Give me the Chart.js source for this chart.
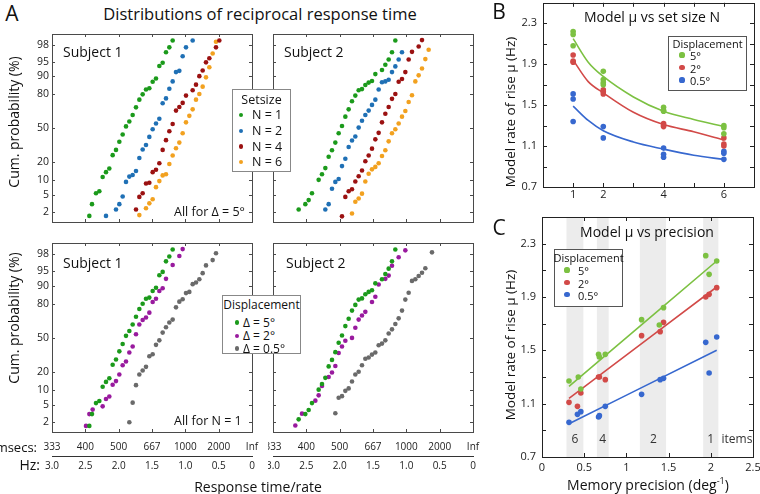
<!DOCTYPE html>
<html>
<head>
<meta charset="utf-8">
<script src="https://cdn.jsdelivr.net/npm/chart.js@4"></script>
<style>
  body { margin: 0; background: #fff; }
  #fig { position: relative; width: 760px; height: 494px; overflow: hidden; font-family: 'Open Sans', sans-serif; color: #111; }
  canvas { position: absolute; }
  .t { position: absolute; white-space: nowrap; line-height: 1; }
  .box { position: absolute; background: #fff; }
  .dot { position: absolute; border-radius: 50%; }
</style>
</head>
<body>
<div id="fig"></div>
<script>
// ---------- panel A: reciprocal RT (Hz) and cumulative probability (probit z) ----------
// subject 1, N = 1 (same data as delta = 5 deg)
var s1n1Hz = [2.44,2.40,2.34,2.29,2.24,2.19,2.14,2.09,2.04,1.99,1.94,1.89,1.84,1.79,1.74,1.69,1.64,1.59,1.54,1.49,1.44,1.39,1.34,1.29,1.24,1.19];
var s1n1Z  = [-2.16,-1.87,-1.60,-1.55,-1.20,-1.08,-0.99,-0.66,-0.53,-0.33,-0.15,0.05,0.17,0.33,0.52,0.71,0.84,0.96,0.99,1.15,1.23,1.54,1.62,1.88,2.00,2.17];
var s1n2Hz = [2.19,2.04,1.99,1.94,1.89,1.84,1.79,1.74,1.69,1.64,1.59,1.54,1.49,1.44,1.39,1.34,1.29,1.24,1.19,1.14,1.09,1.04,0.99,0.89];
var s1n2Z  = [-2.16,-2.00,-1.87,-1.68,-1.32,-1.19,-1.15,-1.05,-0.73,-0.52,-0.41,-0.21,-0.02,0.12,0.24,0.62,0.74,0.98,1.16,1.39,1.42,1.78,2.00,2.17];
var s1n4Hz = [1.74,1.69,1.64,1.59,1.54,1.49,1.44,1.39,1.34,1.29,1.24,1.19,1.14,1.09,1.04,0.99,0.89,0.84,0.79,0.74,0.69,0.64,0.54,0.49];
var s1n4Z  = [-2.00,-1.69,-1.60,-1.36,-1.34,-1.08,-1.02,-0.86,-0.53,-0.29,-0.07,0.11,0.44,0.53,0.63,0.81,0.94,1.08,1.29,1.43,1.63,1.73,2.00,2.17];
var s1n6Hz = [1.69,1.59,1.54,1.49,1.44,1.39,1.34,1.29,1.24,1.19,1.14,1.09,1.04,0.99,0.94,0.89,0.84,0.79,0.74,0.69,0.64,0.59,0.54];
var s1n6Z  = [-2.14,-1.97,-1.85,-1.75,-1.45,-1.30,-1.16,-1.13,-0.88,-0.67,-0.49,-0.35,-0.12,0.15,0.31,0.47,0.71,0.85,1.03,1.26,1.51,1.85,2.14];
// subject 2
var s2n1Hz = [2.615,2.515,2.465,2.415,2.315,2.265,2.215,2.165,2.115,2.065,2.015,1.965,1.915,1.865,1.815,1.765,1.715,1.665,1.615,1.565,1.515,1.465,1.365,1.315,1.265,1.215,1.165];
var s2n1Z  = [-2.00,-1.87,-1.77,-1.60,-1.27,-1.13,-0.98,-0.70,-0.54,-0.35,-0.12,0.06,0.29,0.47,0.67,0.81,0.94,0.97,1.07,1.13,1.17,1.34,1.44,1.57,1.70,1.88,2.17];
var s2n2Hz = [2.215,2.165,2.115,2.065,2.015,1.965,1.915,1.865,1.815,1.765,1.715,1.665,1.615,1.565,1.515,1.465,1.415,1.365,1.315,1.265,1.215,1.165,1.115,1.065];
var s2n2Z  = [-2.00,-1.87,-1.49,-1.32,-1.25,-0.93,-0.75,-0.46,-0.30,-0.20,0.02,0.19,0.33,0.44,0.58,0.71,0.96,1.14,1.16,1.20,1.39,1.53,1.70,1.88];
var s2n4Hz = [1.965,1.915,1.865,1.815,1.765,1.715,1.665,1.615,1.565,1.515,1.465,1.415,1.365,1.315,1.265,1.215,1.165,1.115,1.065,1.015,0.965,0.915,0.815,0.765];
var s2n4Z  = [-2.17,-1.69,-1.55,-1.50,-1.31,-1.18,-1.04,-0.81,-0.67,-0.50,-0.27,-0.11,0.15,0.36,0.53,0.73,0.85,1.15,1.22,1.39,1.70,1.89,2.02,2.18];
var s2n6Hz = [1.815,1.765,1.715,1.665,1.615,1.565,1.515,1.465,1.415,1.365,1.315,1.265,1.215,1.165,1.115,1.065,1.015,0.965,0.915,0.865,0.815,0.765,0.715,0.665];
var s2n6Z  = [-2.10,-1.81,-1.73,-1.61,-1.31,-1.12,-1.01,-0.95,-0.86,-0.68,-0.54,-0.32,-0.12,-0.02,0.12,0.29,0.43,0.65,0.82,1.16,1.31,1.48,1.71,1.94];
// displacement 2 deg and 0.5 deg (N = 1)
var s1d2Hz  = [2.49,2.44,2.39,2.24,2.19,2.14,2.09,2.04,1.99,1.94,1.89,1.84,1.79,1.74,1.69,1.64,1.59,1.54,1.49,1.44,1.39,1.34,1.29,1.19,1.09,1.04];
var s1d2Z   = [-2.16,-1.87,-1.76,-1.68,-1.50,-1.44,-1.15,-1.06,-0.90,-0.67,-0.58,-0.36,-0.21,0.09,0.33,0.44,0.50,0.62,0.88,0.96,1.15,1.22,1.45,1.79,2.01,2.18];
var s1d05Hz = [1.84,1.79,1.74,1.69,1.64,1.59,1.54,1.49,1.44,1.39,1.34,1.29,1.24,1.19,1.14,1.09,1.04,0.99,0.94,0.89,0.84,0.79,0.74,0.69,0.59,0.54];
var s1d05Z  = [-2.07,-1.59,-1.16,-0.90,-0.80,-0.71,-0.45,-0.40,-0.17,-0.06,0.13,0.26,0.38,0.45,0.75,0.89,0.95,1.10,1.13,1.32,1.36,1.44,1.59,1.78,1.91,2.08];
var s2d2Hz  = [2.665,2.565,2.365,2.315,2.265,2.165,2.115,2.065,2.015,1.965,1.915,1.815,1.765,1.715,1.665,1.615,1.515,1.465,1.415,1.315,1.265,1.215,1.115,1.015];
var s2d2Z   = [-2.15,-1.86,-1.54,-1.41,-1.18,-0.96,-0.85,-0.69,-0.37,-0.21,-0.07,0.00,0.25,0.45,0.55,0.64,0.88,1.01,1.31,1.45,1.53,1.77,1.98,2.15];
var s2d05Hz = [2.065,2.015,1.965,1.915,1.865,1.815,1.765,1.715,1.665,1.615,1.565,1.515,1.465,1.415,1.365,1.315,1.265,1.215,1.165,1.115,1.065,1.015,0.965,0.915,0.865,0.815,0.765,0.715,0.615];
var s2d05Z  = [-1.85,-1.47,-1.43,-1.30,-1.24,-1.07,-0.90,-0.83,-0.67,-0.51,-0.48,-0.41,-0.36,-0.18,-0.14,-0.06,0.11,0.21,0.34,0.48,0.67,0.94,1.11,1.40,1.44,1.52,1.60,1.71,2.10];

var probTicks   = [2, 5, 10, 20, 50, 80, 90, 95, 98];
var hzTicks     = [3.0, 2.5, 2.0, 1.5, 1.0, 0.5, 0];
var hzLabels    = ['3.0', '2.5', '2.0', '1.5', '1.0', '0.5', '0'];
var msecsLabels = ['333', '400', '500', '667', '1000', '2000', 'Inf'];

// ---------- panel B: model mu vs set size ----------
var setSizes = [1, 2, 4, 6];
var bMu5  = [[2.22, 2.19, 2.08], [1.83, 1.75, 1.72, 1.70], [1.48, 1.45, 1.44], [1.30, 1.28, 1.22]];
var bMu2  = [[1.99, 1.93, 1.92], [1.65, 1.63, 1.61], [1.32, 1.30, 1.29], [1.18, 1.12, 1.10]];
var bMu05 = [[1.61, 1.56, 1.34], [1.29, 1.18], [1.08, 1.02, 0.99], [1.05, 1.03, 0.97]];
var fitN    = [1, 1.5, 2, 3, 4, 5, 6];
var fitMu5  = [2.15, 1.92, 1.78, 1.58, 1.44, 1.36, 1.29];
var fitMu2  = [1.94, 1.73, 1.62, 1.43, 1.31, 1.24, 1.16];
var fitMu05 = [1.49, 1.35, 1.25, 1.14, 1.07, 1.01, 0.97];

// ---------- panel C: model mu vs memory precision ----------
var cPrec5  = [0.32, 0.43, 0.46, 0.67, 0.68, 0.75, 1.18, 1.39, 1.44, 1.94, 1.98, 2.07];
var cMu5    = [1.27, 1.30, 1.21, 1.47, 1.45, 1.47, 1.73, 1.69, 1.82, 2.21, 2.07, 2.17];
var cPrec2  = [0.32, 0.42, 0.46, 0.67, 0.68, 0.75, 1.18, 1.40, 1.44, 1.94, 1.98, 2.07];
var cMu2    = [1.11, 1.08, 1.18, 1.30, 1.30, 1.28, 1.61, 1.64, 1.71, 1.90, 1.92, 1.97];
var cPrec05 = [0.32, 0.42, 0.46, 0.67, 0.68, 0.75, 1.18, 1.40, 1.44, 1.94, 1.98, 2.07];
var cMu05   = [0.96, 1.02, 1.04, 1.00, 1.01, 1.08, 1.17, 1.28, 1.29, 1.56, 1.33, 1.60];
var lineX   = [0.32, 2.07];
var line5   = [1.23, 2.17];
var line2   = [1.14, 1.975];
var line05  = [0.95, 1.50];
var bandFrom   = [0.29, 0.65, 1.16, 1.91];
var bandTo     = [0.49, 0.79, 1.47, 2.09];
var itemLabels = ['6', '4', '2', '1', 'items'];
var itemX      = [0.39, 0.72, 1.32, 2.0, 2.31];

var muTicks  = [0.7, 0.9, 1.1, 1.3, 1.5, 1.7, 1.9, 2.1, 2.3];
var muLabels = ['0.7', '', '1.1', '', '1.5', '', '1.9', '', '2.3'];

// colours
var cGreen = '#1b9a1b', cBlue = '#1f70b5', cDark = '#9b1111', cOrange = '#f2a11f', cPurple = '#991a9e', cGray = '#6a6a6a';
var mGreen = '#7cc142', mRed = '#d24a48', mBlue = '#3768cf';

Chart.defaults.font.family = "'Open Sans', sans-serif";
Chart.defaults.color = '#222';
Chart.defaults.animation = false;

var fig = document.getElementById('fig');

// inverse normal cdf (Abramowitz & Stegun 26.2.23)
function probit(p) {
  var q = p < 0.5 ? p : 1 - p;
  var t = Math.sqrt(-2 * Math.log(q));
  var z = t - (2.515517 + 0.802853 * t + 0.010328 * t * t) / (1 + 1.432788 * t + 0.189269 * t * t + 0.001308 * t * t * t);
  return p < 0.5 ? -z : z;
}

function zip(xs, ys) { return xs.map(function(x, i) { return { x: x, y: ys[i] }; }); }

function mkCanvas(left, top, w, h) {
  var c = document.createElement('canvas');
  c.width = w; c.height = h;
  c.style.left = left + 'px'; c.style.top = top + 'px';
  c.style.width = w + 'px'; c.style.height = h + 'px';
  fig.appendChild(c);
  return c;
}

// box + inward tick marks, MATLAB style
function frameTicks(xTicks, yTicks, color, len) {
  return {
    id: 'frameTicks',
    afterDatasetsDraw: function(chart) {
      var ctx = chart.ctx, a = chart.chartArea, sx = chart.scales.x, sy = chart.scales.y;
      ctx.save();
      ctx.strokeStyle = color;
      ctx.lineWidth = 1;
      ctx.beginPath();
      xTicks.forEach(function(v) {
        var px = Math.round(sx.getPixelForValue(v)) + 0.5;
        ctx.moveTo(px, a.top); ctx.lineTo(px, a.top + len);
        ctx.moveTo(px, a.bottom); ctx.lineTo(px, a.bottom - len);
      });
      yTicks.forEach(function(v) {
        var py = Math.round(sy.getPixelForValue(v)) + 0.5;
        ctx.moveTo(a.left, py); ctx.lineTo(a.left + len, py);
        ctx.moveTo(a.right, py); ctx.lineTo(a.right - len, py);
      });
      ctx.stroke();
      ctx.strokeRect(Math.round(a.left) + 0.5, Math.round(a.top) + 0.5, Math.round(a.width), Math.round(a.height));
      ctx.restore();
    }
  };
}

function text(str, x, y, size, align, rot) {
  var d = document.createElement('div');
  d.className = 't';
  d.innerHTML = str;
  d.style.left = x + 'px';
  d.style.top = y + 'px';
  d.style.fontSize = size + 'px';
  var tx = align === 'left' ? '0' : align === 'right' ? '-100%' : '-50%';
  d.style.transform = 'translate(' + tx + ',-50%)' + (rot ? ' rotate(' + rot + 'deg)' : '');
  fig.appendChild(d);
  return d;
}

function legendBox(left, top, w, h, border, title, titleY, size, items, dotX, textX, r) {
  var b = document.createElement('div');
  b.className = 'box';
  b.style.left = left + 'px'; b.style.top = top + 'px';
  b.style.width = w + 'px'; b.style.height = h + 'px';
  b.style.border = '1px solid ' + border;
  fig.appendChild(b);
  text(title, left + w / 2 + 1, titleY, size);
  items.forEach(function(it) {
    var d = document.createElement('div');
    d.className = 'dot';
    d.style.width = d.style.height = (2 * r) + 'px';
    d.style.left = (dotX - r) + 'px'; d.style.top = (it.y - r) + 'px';
    d.style.background = it.color;
    fig.appendChild(d);
    text(it.text, textX, it.y, size, 'left');
  });
}

// keep the plot box where it is, whatever the label widths
function fixX(h) {
  return function(s) { if (h !== null) s.height = h; s.paddingLeft = 0; s.paddingRight = 0; };
}

// ---------- panel A charts ----------
var Z_MIN = -2.31, Z_MAX = 2.33;

function panelA(canvas, series, showY, showX, pad) {
  var xAxis = function(labels, h, padding, border, weight) {
    return {
      type: 'linear', reverse: true, min: 0, max: 3, display: showX, weight: weight,
      afterBuildTicks: function(s) { s.ticks = hzTicks.map(function(v) { return { value: v }; }); },
      afterFit: fixX(showX ? h : null),
      grid: { display: false, drawTicks: false },
      border: { display: border, color: '#333', width: 1 },
      ticks: { autoSkip: false, maxRotation: 0, padding: padding, font: { size: 10 }, color: '#222',
               callback: function(v, i) { return labels[i]; } }
    };
  };
  return new Chart(canvas, {
    type: 'scatter',
    data: {
      datasets: series.map(function(s) {
        return { data: zip(s.hz, s.z), backgroundColor: s.color, borderWidth: 0, pointRadius: 2.3, pointHoverRadius: 2.3 };
      })
    },
    options: {
      responsive: false,
      devicePixelRatio: 1,
      layout: { padding: pad },
      plugins: { legend: { display: false }, tooltip: { enabled: false } },
      scales: {
        x: xAxis(msecsLabels, 24, 9, false, 0),
        x2: xAxis(hzLabels, 23, 4, true, 1),
        y: {
          type: 'linear', min: Z_MIN, max: Z_MAX, display: showY,
          afterBuildTicks: function(s) { s.ticks = probTicks.map(function(p) { return { value: probit(p / 100) }; }); },
          afterFit: function(s) { if (showY) s.width = 31; s.paddingTop = 0; s.paddingBottom = 0; },
          grid: { display: false, drawTicks: false },
          border: { display: false },
          ticks: { autoSkip: false, padding: 3, font: { size: 10.5 }, color: '#222',
                   callback: function(v, i) { return String(probTicks[i]); } }
        }
      }
    },
    plugins: [frameTicks([2.5, 2.0, 1.5, 1.0, 0.5], probTicks.map(function(p) { return probit(p / 100); }), '#4a4a4a', 3)]
  });
}

panelA(mkCanvas(21, 30, 236, 197), [
  { hz: s1n1Hz, z: s1n1Z, color: cGreen },
  { hz: s1n2Hz, z: s1n2Z, color: cBlue },
  { hz: s1n4Hz, z: s1n4Z, color: cDark },
  { hz: s1n6Hz, z: s1n6Z, color: cOrange }
], true, false, { top: 4, right: 5, bottom: 5, left: 0 });

panelA(mkCanvas(268, 30, 210, 197), [
  { hz: s2n1Hz, z: s2n1Z, color: cGreen },
  { hz: s2n2Hz, z: s2n2Z, color: cBlue },
  { hz: s2n4Hz, z: s2n4Z, color: cDark },
  { hz: s2n6Hz, z: s2n6Z, color: cOrange }
], false, false, { top: 4, right: 5, bottom: 5, left: 5 });

panelA(mkCanvas(21, 239, 245, 240), [
  { hz: s1n1Hz, z: s1n1Z, color: cGreen },
  { hz: s1d2Hz, z: s1d2Z, color: cPurple },
  { hz: s1d05Hz, z: s1d05Z, color: cGray }
], true, true, { top: 4, right: 14, bottom: 0, left: 0 });

panelA(mkCanvas(268, 239, 214, 240), [
  { hz: s2n1Hz, z: s2n1Z, color: cGreen },
  { hz: s2d2Hz, z: s2d2Z, color: cPurple },
  { hz: s2d05Hz, z: s2d05Z, color: cGray }
], false, true, { top: 4, right: 9, bottom: 0, left: 5 });

// ---------- panels B and C ----------
function muAxis() {
  return {
    type: 'linear', min: 0.7, max: 2.5,
    afterBuildTicks: function(s) { s.ticks = muTicks.map(function(v) { return { value: v }; }); },
    afterFit: function(s) { s.width = 38; s.paddingTop = 0; s.paddingBottom = 0; },
    grid: { display: false, drawTicks: false }, border: { display: false },
    ticks: { autoSkip: false, padding: 6, font: { size: 11 }, color: '#222',
             callback: function(v, i) { return muLabels[i]; } }
  };
}

function pointsFromGroups(groups) {
  var out = [];
  groups.forEach(function(g, i) { g.forEach(function(v) { out.push({ x: setSizes[i], y: v }); }); });
  return out;
}

function dots(data, color) {
  return { data: data, backgroundColor: color, borderWidth: 0, pointRadius: 2.8, pointHoverRadius: 2.8 };
}
function curve(xs, ys, color) {
  return { data: zip(xs, ys), showLine: true, borderColor: color, borderWidth: 1.6, pointRadius: 0,
           cubicInterpolationMode: 'monotone', fill: false };
}

new Chart(mkCanvas(505, 0, 255, 205), {
  type: 'scatter',
  data: {
    datasets: [
      dots(pointsFromGroups(bMu5), mGreen),
      dots(pointsFromGroups(bMu2), mRed),
      dots(pointsFromGroups(bMu05), mBlue),
      curve(fitN, fitMu5, mGreen),
      curve(fitN, fitMu2, mRed),
      curve(fitN, fitMu05, mBlue)
    ]
  },
  options: {
    responsive: false, devicePixelRatio: 1,
    layout: { padding: { top: 2, right: 6, bottom: 0, left: 0 } },
    plugins: { legend: { display: false }, tooltip: { enabled: false } },
    scales: {
      x: {
        type: 'linear', min: 0, max: 7,
        afterBuildTicks: function(s) { s.ticks = [1, 2, 3, 4, 5, 6].map(function(v) { return { value: v }; }); },
        afterFit: fixX(18),
        grid: { display: false, drawTicks: false }, border: { display: false },
        ticks: { autoSkip: false, maxRotation: 0, padding: 1, font: { size: 11 }, color: '#222',
                 callback: function(v) { return setSizes.indexOf(v) >= 0 ? String(v) : ''; } }
      },
      y: muAxis()
    }
  },
  plugins: [frameTicks([1, 2, 3, 4, 5, 6], muTicks, '#222', 4)]
});

var bands = {
  id: 'bands',
  beforeDatasetsDraw: function(chart) {
    var ctx = chart.ctx, a = chart.chartArea, sx = chart.scales.x, sy = chart.scales.y;
    ctx.save();
    ctx.fillStyle = '#ececec';
    bandFrom.forEach(function(f, i) {
      var x0 = sx.getPixelForValue(f), x1 = sx.getPixelForValue(bandTo[i]);
      ctx.fillRect(x0, a.top, x1 - x0, a.height);
    });
    ctx.fillStyle = '#333';
    ctx.font = "12px 'Open Sans', sans-serif";
    ctx.textAlign = 'center';
    ctx.textBaseline = 'middle';
    itemLabels.forEach(function(t, i) {
      ctx.fillText(t, sx.getPixelForValue(itemX[i]), sy.getPixelForValue(0.83));
    });
    ctx.restore();
  }
};

new Chart(mkCanvas(504, 214, 256, 266), {
  type: 'scatter',
  data: {
    datasets: [
      dots(zip(cPrec5, cMu5), mGreen),
      dots(zip(cPrec2, cMu2), mRed),
      dots(zip(cPrec05, cMu05), mBlue),
      curve(lineX, line5, mGreen),
      curve(lineX, line2, mRed),
      curve(lineX, line05, mBlue)
    ]
  },
  options: {
    responsive: false, devicePixelRatio: 1,
    layout: { padding: { top: 3, right: 7, bottom: 0, left: 0 } },
    plugins: { legend: { display: false }, tooltip: { enabled: false } },
    scales: {
      x: {
        type: 'linear', min: 0, max: 2.5,
        afterBuildTicks: function(s) { s.ticks = [0, 0.5, 1, 1.5, 2, 2.5].map(function(v) { return { value: v }; }); },
        afterFit: fixX(23),
        grid: { display: false, drawTicks: false }, border: { display: false },
        ticks: { autoSkip: false, maxRotation: 0, padding: 4, font: { size: 11 }, color: '#222',
                 callback: function(v) { return String(v); } }
      },
      y: muAxis()
    }
  },
  plugins: [bands, frameTicks([0.5, 1, 1.5, 2], muTicks, '#222', 4)]
});

// ---------- text ----------
text('A', 12, 13, 21);
text('Distributions of reciprocal response time', 260, 14, 16.5);
text('Subject 1', 63, 52, 14, 'left');
text('Subject 2', 284, 52, 14, 'left');
text('Subject 1', 63, 263, 14, 'left');
text('Subject 2', 286, 263, 14, 'left');
text('All for &Delta; = 5&deg;', 174, 212, 12.5, 'left');
text('All for N = 1', 174, 421, 12.5, 'left');
text('Cum. probability (%)', 14, 122, 14, null, -90);
text('Cum. probability (%)', 14, 318, 14, null, -90);
text('msecs:', 37, 447, 13, 'right');
text('Hz:', 40, 465, 14, 'right');
text('Response time/rate', 258, 487, 14);

text('B', 499, 11, 21);
text('Model &mu; vs set size N', 652, 17, 14);
text('Model rate of rise &mu; (Hz)', 511, 112, 13.5, null, -90);
text('C', 499, 227, 21);
text('Model &mu; vs precision', 647, 232, 14);
text('Model rate of rise &mu; (Hz)', 511, 345, 13.5, null, -90);
text('Memory precision (deg<sup style="font-size:9px">-1</sup>)', 648, 484, 14);

// ---------- legends ----------
legendBox(232, 89, 57, 81, '#888', 'Setsize', 100, 12.5, [
  { color: cGreen, text: 'N = 1', y: 115 },
  { color: cBlue, text: 'N = 2', y: 131 },
  { color: cDark, text: 'N = 4', y: 146.5 },
  { color: cOrange, text: 'N = 6', y: 162 }
], 241, 252, 2.2);

legendBox(222, 295, 77, 57, '#888', 'Displacement', 305, 12, [
  { color: cGreen, text: '&Delta; = 5&deg;', y: 322.5 },
  { color: cPurple, text: '&Delta; = 2&deg;', y: 336 },
  { color: cGray, text: '&Delta; = 0.5&deg;', y: 348.5 }
], 237, 243, 2.2);

legendBox(668, 36, 77, 53, '#555', 'Displacement', 43, 11, [
  { color: mGreen, text: '5&deg;', y: 55 },
  { color: mRed, text: '2&deg;', y: 67.5 },
  { color: mBlue, text: '0.5&deg;', y: 80 }
], 682, 690, 2.6);

legendBox(554, 249, 67, 56, '#555', 'Displacement', 257, 11, [
  { color: mGreen, text: '5&deg;', y: 270 },
  { color: mRed, text: '2&deg;', y: 282.5 },
  { color: mBlue, text: '0.5&deg;', y: 294.5 }
], 567, 578, 2.6);
</script>
</body>
</html>
